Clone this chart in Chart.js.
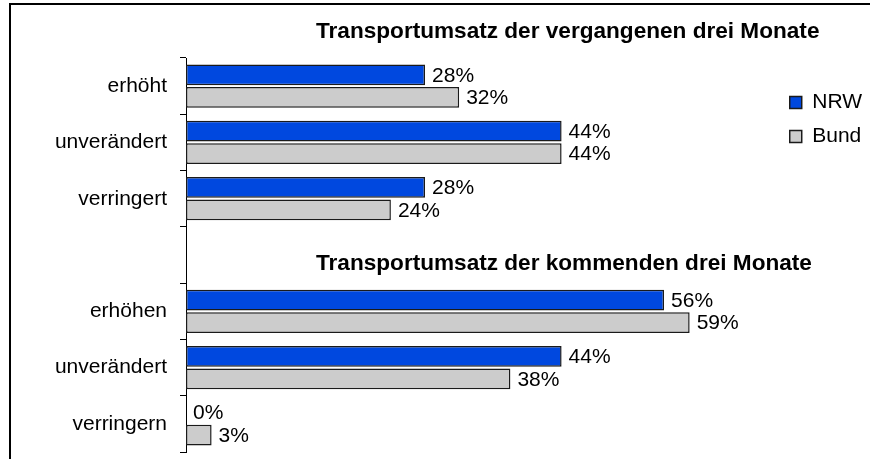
<!DOCTYPE html>
<html>
<head>
<meta charset="utf-8">
<script src="https://cdn.jsdelivr.net/npm/chart.js@4/dist/chart.umd.min.js"></script>
<style>
  body { margin: 0; background: #fff; }
  #wrap { width: 870px; height: 459px; position: relative; }
</style>
</head>
<body>
<div id="wrap"><canvas id="chart"></canvas></div>
<script>
// categories, the empty one holds the second section title
const categories = ['erhöht', 'unverändert', 'verringert', '', 'erhöhen', 'unverändert', 'verringern'];
const seriesNames = ['NRW', 'Bund'];
const nrwValues = [28, 44, 28, null, 56, 44, 0];
const bundValues = [32, 44, 24, null, 59, 38, 3];
const sectionTitles = ['Transportumsatz der vergangenen drei Monate', 'Transportumsatz der kommenden drei Monate'];

Chart.defaults.font.family = '"Liberation Sans", Arial, sans-serif';
Chart.defaults.color = '#000';

// frame line on left and top
const framePlugin = {
  id: 'frame',
  beforeDraw(chart) {
    const ctx = chart.ctx;
    ctx.save();
    ctx.strokeStyle = '#000';
    ctx.lineWidth = 2;
    ctx.beginPath();
    ctx.moveTo(10, chart.height);
    ctx.lineTo(10, 4);
    ctx.lineTo(chart.width, 4);
    ctx.stroke();
    ctx.restore();
  }
};

// section titles
const titlesPlugin = {
  id: 'sectionTitles',
  afterDraw(chart) {
    const ctx = chart.ctx;
    const y = chart.scales.y;
    ctx.save();
    ctx.font = 'bold 22.6px "Liberation Sans", Arial, sans-serif';
    ctx.fillStyle = '#000';
    ctx.textAlign = 'left';
    ctx.textBaseline = 'alphabetic';
    ctx.fillText(sectionTitles[0], 316, chart.chartArea.top - 20);
    ctx.fillText(sectionTitles[1], 316, y.getPixelForValue(3) + 15);
    ctx.restore();
  }
};

// percent labels at bar ends
const valueLabels = {
  id: 'valueLabels',
  afterDatasetsDraw(chart) {
    const ctx = chart.ctx;
    ctx.save();
    ctx.font = '21px "Liberation Sans", Arial, sans-serif';
    ctx.fillStyle = '#000';
    ctx.textAlign = 'left';
    ctx.textBaseline = 'middle';
    chart.data.datasets.forEach((ds, i) => {
      const meta = chart.getDatasetMeta(i);
      meta.data.forEach((bar, j) => {
        const v = ds.data[j];
        if (v === null) return;
        ctx.fillText(v + '%', bar.x + 7, bar.y + 1);
      });
    });
    ctx.restore();
  }
};

chart = new Chart(document.getElementById('chart'), {
  type: 'bar',
  data: {
    labels: categories,
    datasets: [
      {
        label: seriesNames[0],
        data: nrwValues,
        backgroundColor: '#0048DF',
        borderColor: '#1a1a1a',
        borderWidth: 1.5,
        borderSkipped: false
      },
      {
        label: seriesNames[1],
        data: bundValues,
        backgroundColor: '#CCCCCC',
        borderColor: '#1a1a1a',
        borderWidth: 1.5,
        borderSkipped: false
      }
    ]
  },
  options: {
    indexAxis: 'y',
    responsive: true,
    maintainAspectRatio: false,
    animation: false,
    categoryPercentage: 0.8,
    barPercentage: 0.92,
    layout: {
      padding: { top: 58, bottom: 7, left: 10, right: -2 }
    },
    scales: {
      x: {
        display: false,
        min: 0,
        max: 69.2
      },
      y: {
        afterFit: (s) => {
          s.width = 176;
          s.paddingTop = 0;
          s.paddingBottom = 0;
        },
        border: { display: true, color: '#000', width: 1 },
        grid: {
          drawOnChartArea: false,
          drawTicks: true,
          tickLength: 6,
          color: '#000'
        },
        ticks: {
          padding: 13,
          font: { size: 21 },
          color: '#000'
        }
      }
    },
    plugins: {
      tooltip: { enabled: false },
      legend: {
        position: 'right',
        align: 'start',
        title: {
          display: true,
          text: ' ',
          font: { size: 10, lineHeight: 1 },
          padding: { top: 5, bottom: 6 }
        },
        labels: {
          boxWidth: 12,
          boxHeight: 12,
          padding: 13,
          font: { size: 21 },
          color: '#000'
        }
      }
    }
  },
  plugins: [framePlugin, titlesPlugin, valueLabels]
});
</script>
</body>
</html>
